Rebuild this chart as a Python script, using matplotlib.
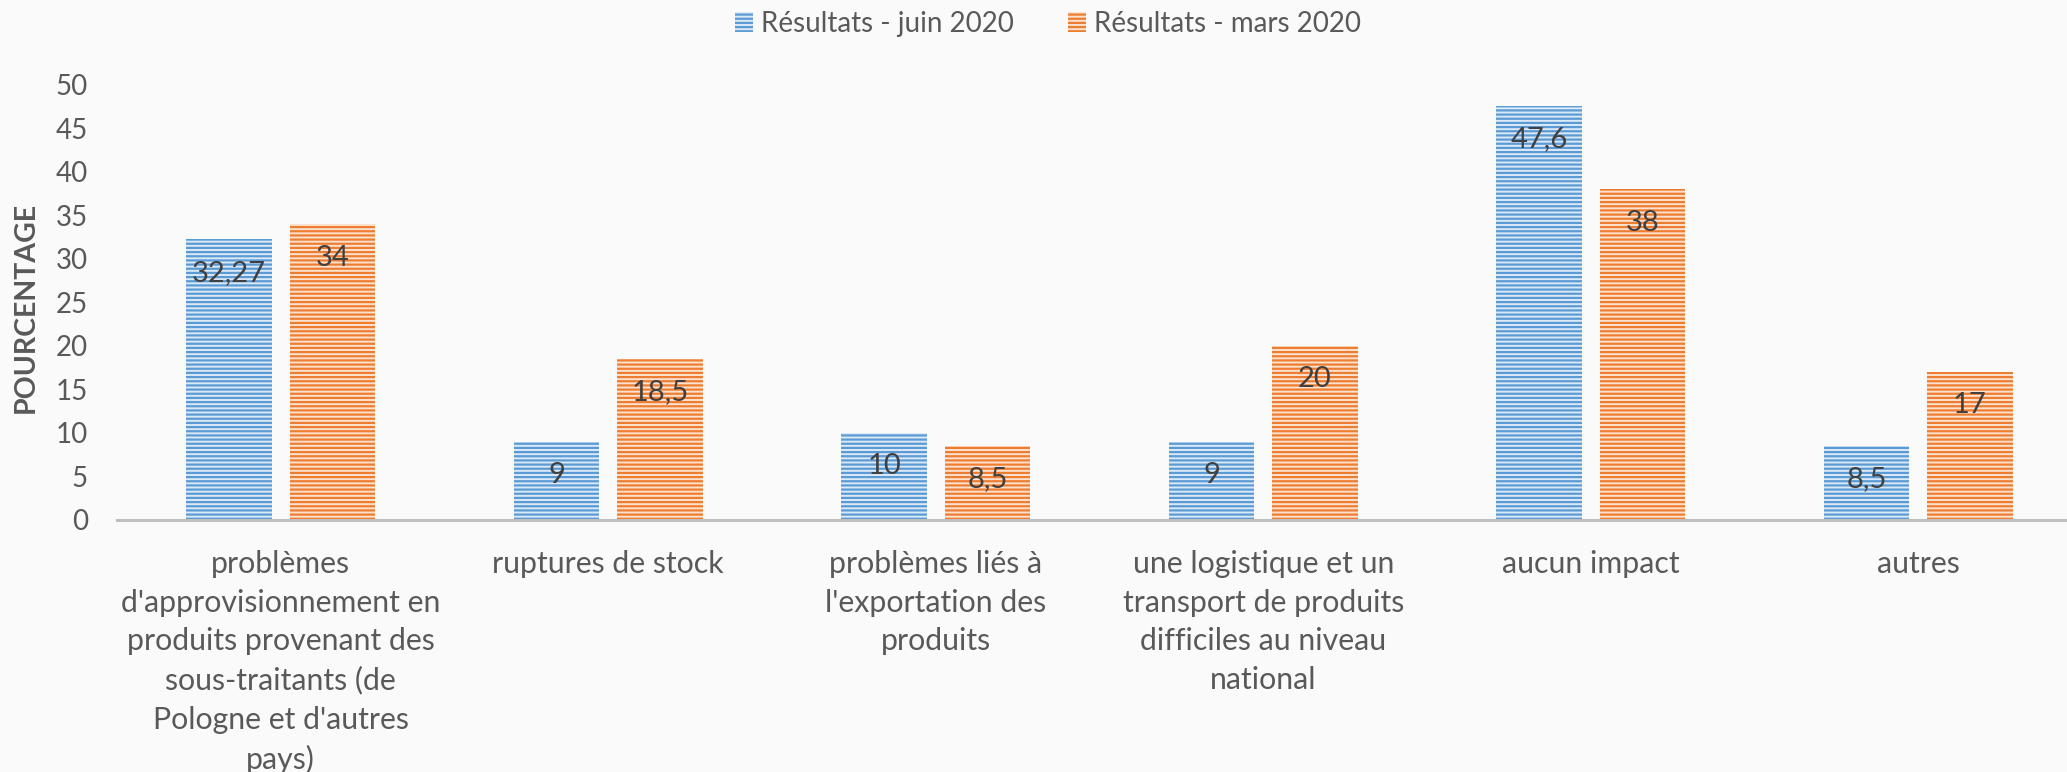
import matplotlib
matplotlib.use("Agg")
import matplotlib.pyplot as plt
import numpy as np

categories = [
    "problèmes\nd'approvisionnement en\nproduits provenant des\nsous-traitants (de\nPologne et d'autres\npays)",
    "ruptures de stock",
    "problèmes liés à\nl'exportation des\nproduits",
    "une logistique et un\ntransport de produits\ndifficiles au niveau\nnational",
    "aucun impact",
    "autres",
]
series_names = ["Résultats - juin 2020", "Résultats - mars 2020"]
juin_2020 = [32.27, 9, 10, 9, 47.6, 8.5]
mars_2020 = [34, 18.5, 8.5, 20, 38, 17]
value_labels_juin = ["32,27", "9", "10", "9", "47,6", "8,5"]
value_labels_mars = ["34", "18,5", "8,5", "20", "38", "17"]
yticks = [0, 5, 10, 15, 20, 25, 30, 35, 40, 45, 50]

plt.rcParams['font.family'] = ['Lato', 'DejaVu Sans']
plt.rcParams['hatch.linewidth'] = 1.6

BG = '#fafafa'
BLUE = '#5b9bd5'
ORANGE = '#ed7d31'
BLUE_FACE = '#dce9f6'
ORANGE_FACE = '#fce2cf'
TXT = '#595959'
LBL = '#404040'

fig = plt.figure(figsize=(20.67, 7.72), dpi=100, facecolor=BG)
ax = fig.add_axes([117 / 2067, 1 - 520 / 772, (2082 - 117) / 2067, (520 - 85) / 772])
ax.set_facecolor(BG)

x = np.arange(len(categories))
w = 0.26
off = 0.158
b1 = ax.bar(x - off, juin_2020, w, color=BLUE_FACE, edgecolor=BLUE, linewidth=0,
            hatch='----', label=series_names[0])
b2 = ax.bar(x + off, mars_2020, w, color=ORANGE_FACE, edgecolor=ORANGE, linewidth=0,
            hatch='----', label=series_names[1])

for bars, labels in ((b1, value_labels_juin), (b2, value_labels_mars)):
    for rect, lab in zip(bars, labels):
        ax.annotate(lab, (rect.get_x() + rect.get_width() / 2, rect.get_height()),
                    xytext=(0, -24), textcoords='offset points',
                    ha='center', va='center', fontsize=21, color=LBL)

ax.set_xlim(-0.5, len(categories) - 0.5)
ax.set_ylim(0, 50)
ax.set_yticks(yticks)
ax.set_xticks(x)
ax.set_xticklabels(categories, fontsize=21.8, color=TXT, linespacing=1.465, va='top')
ax.tick_params(axis='x', length=0, pad=21.5)
ax.tick_params(axis='y', length=0, pad=21, labelsize=20, labelcolor=TXT)
for s in ('top', 'right', 'left'):
    ax.spines[s].set_visible(False)
ax.spines['bottom'].set_color('#bfbfbf')
ax.spines['bottom'].set_linewidth(2.2)

ax.set_ylabel('POURCENTAGE', fontsize=20.5, fontweight='bold', color=TXT)
ax.yaxis.set_label_coords((39 - 117) / (2082 - 117), (520 - 307) / 435)

fig.legend(handles=[b1, b2], loc='center', bbox_to_anchor=(1048 / 2067, 1 - 24 / 772),
           ncol=2, frameon=False, fontsize=20, labelcolor=TXT,
           handlelength=0.65, handleheight=0.75, handletextpad=0.3, columnspacing=1.95)

fig.savefig('out.png', dpi=100, facecolor=BG)
